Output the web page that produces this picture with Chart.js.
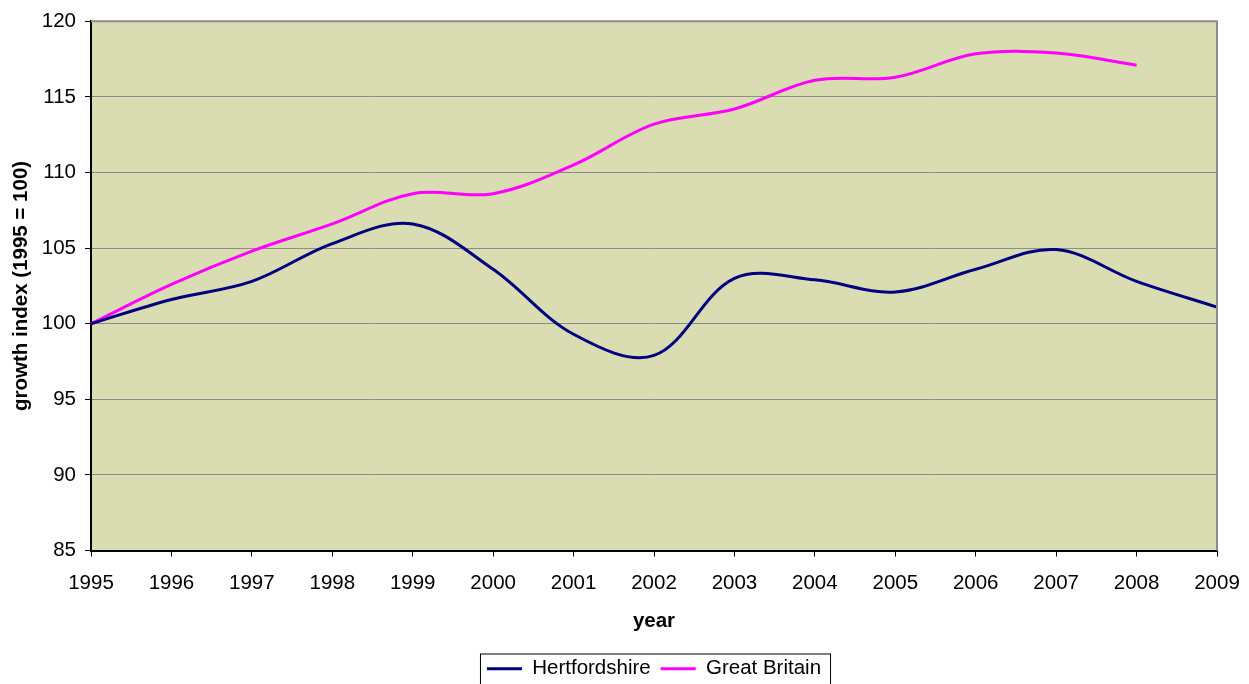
<!DOCTYPE html>
<html>
<head>
<meta charset="utf-8">
<script src="https://cdn.jsdelivr.net/npm/chart.js@4"></script>
<style>
  html, body { margin: 0; padding: 0; background: #fff; overflow: hidden; }
  #wrap { width: 1249px; height: 689px; }
</style>
</head>
<body>
<div id="wrap"><canvas id="growthChart"></canvas></div>
<script>
const years = ["1995", "1996", "1997", "1998", "1999", "2000", "2001", "2002", "2003", "2004", "2005", "2006", "2007", "2008", "2009"];
const hertsValues = [100, 101.6, 102.8, 105.3, 106.6, 103.6, 99.3, 97.9, 103.0, 102.9, 102.1, 103.6, 104.9, 102.8, 101.1];
const gbValues = [100, 102.6, 104.8, 106.6, 108.6, 108.6, 110.5, 113.2, 114.2, 116.1, 116.3, 117.85, 117.9, 117.1];
const yTicks = [85, 90, 95, 100, 105, 110, 115, 120];

const plotBg = '#dadcb2';
const fontFamily = '"Liberation Sans", Arial, sans-serif';
const fontSize = 20.5;

// fond de la zone de tracé, bordures haut/droite, cadre de légende
const plotArea = {
    id: 'plotArea',
    afterLayout(chart) {
        // légende centrée sur la zone de tracé
        chart.legend.left = chart.chartArea.left;
        chart.legend.right = chart.chartArea.right;
    },
    beforeDraw(chart) {
        const { ctx, chartArea: a } = chart;
        ctx.save();
        ctx.fillStyle = plotBg;
        ctx.fillRect(a.left, a.top, a.right - a.left, a.bottom - a.top);
        ctx.restore();
    },
    afterDraw(chart) {
        const { ctx, chartArea: a } = chart;
        ctx.save();
        ctx.strokeStyle = '#8c8c8c';
        ctx.lineWidth = 2;
        ctx.beginPath();
        ctx.moveTo(a.left, a.top);
        ctx.lineTo(a.right, a.top);
        ctx.lineTo(a.right, a.bottom);
        ctx.stroke();

        const boxes = chart.legend.legendHitBoxes;
        if (boxes && boxes.length) {
            const first = boxes[0], last = boxes[boxes.length - 1];
            const x1 = first.left - 7, x2 = last.left + last.width + 9;
            const y1 = first.top - 5;
            ctx.strokeStyle = '#000';
            ctx.lineWidth = 1;
            ctx.strokeRect(x1 + 0.5, y1 + 0.5, x2 - x1, 60);
        }
        ctx.restore();
    }
};

new Chart(document.getElementById('growthChart'), {
    type: 'line',
    data: {
        labels: years,
        datasets: [
            { label: 'Hertfordshire', data: hertsValues, borderColor: '#000080', backgroundColor: '#000080', borderWidth: 3, pointRadius: 0, tension: 0.35, fill: false },
            { label: 'Great Britain', data: gbValues, borderColor: '#ff00ff', backgroundColor: '#ff00ff', borderWidth: 3, pointRadius: 0, tension: 0.35, fill: false }
        ]
    },
    options: {
        responsive: true,
        maintainAspectRatio: false,
        animation: false,
        layout: { padding: { top: 19, right: 32, left: 0, bottom: 0 } },
        plugins: {
            title: { display: false },
            tooltip: { enabled: false },
            legend: {
                position: 'bottom',
                labels: {
                    color: '#000',
                    font: { family: fontFamily, size: fontSize },
                    boxWidth: 35,
                    boxHeight: 3,
                    padding: 10,
                    generateLabels(chart) {
                        const items = Chart.defaults.plugins.legend.labels.generateLabels(chart);
                        items.forEach(it => { it.lineWidth = 0; it.fillStyle = it.strokeStyle; });
                        return items;
                    }
                }
            }
        },
        scales: {
            x: {
                type: 'category',
                offset: false,
                afterFit(scale) {
                    scale.height = 98;
                    scale.paddingLeft = 0;
                    scale.paddingRight = 0;
                },
                grid: { drawOnChartArea: false, drawTicks: true, tickLength: 6, tickColor: '#000' },
                border: { color: '#000', width: 2 },
                ticks: { color: '#000', font: { family: fontFamily, size: fontSize }, padding: 15, maxRotation: 0, autoSkip: false },
                title: { display: true, text: 'year', color: '#000', font: { family: fontFamily, size: fontSize, weight: 'bold' }, padding: { top: 0, bottom: 15 } }
            },
            y: {
                min: 85,
                max: 120,
                afterFit(scale) { scale.width = 91; },
                afterBuildTicks(scale) { scale.ticks = yTicks.map(v => ({ value: v })); },
                grid: { color: '#8c8c8c', lineWidth: 1, drawTicks: true, tickLength: 6, tickColor: '#000' },
                border: { color: '#000', width: 2 },
                ticks: { color: '#000', font: { family: fontFamily, size: fontSize }, padding: 9 },
                title: { display: true, text: 'growth index (1995 = 100)', color: '#000', font: { family: fontFamily, size: fontSize, weight: 'bold' }, padding: { top: 9, bottom: 0 } }
            }
        }
    },
    plugins: [plotArea]
});
</script>
</body>
</html>
